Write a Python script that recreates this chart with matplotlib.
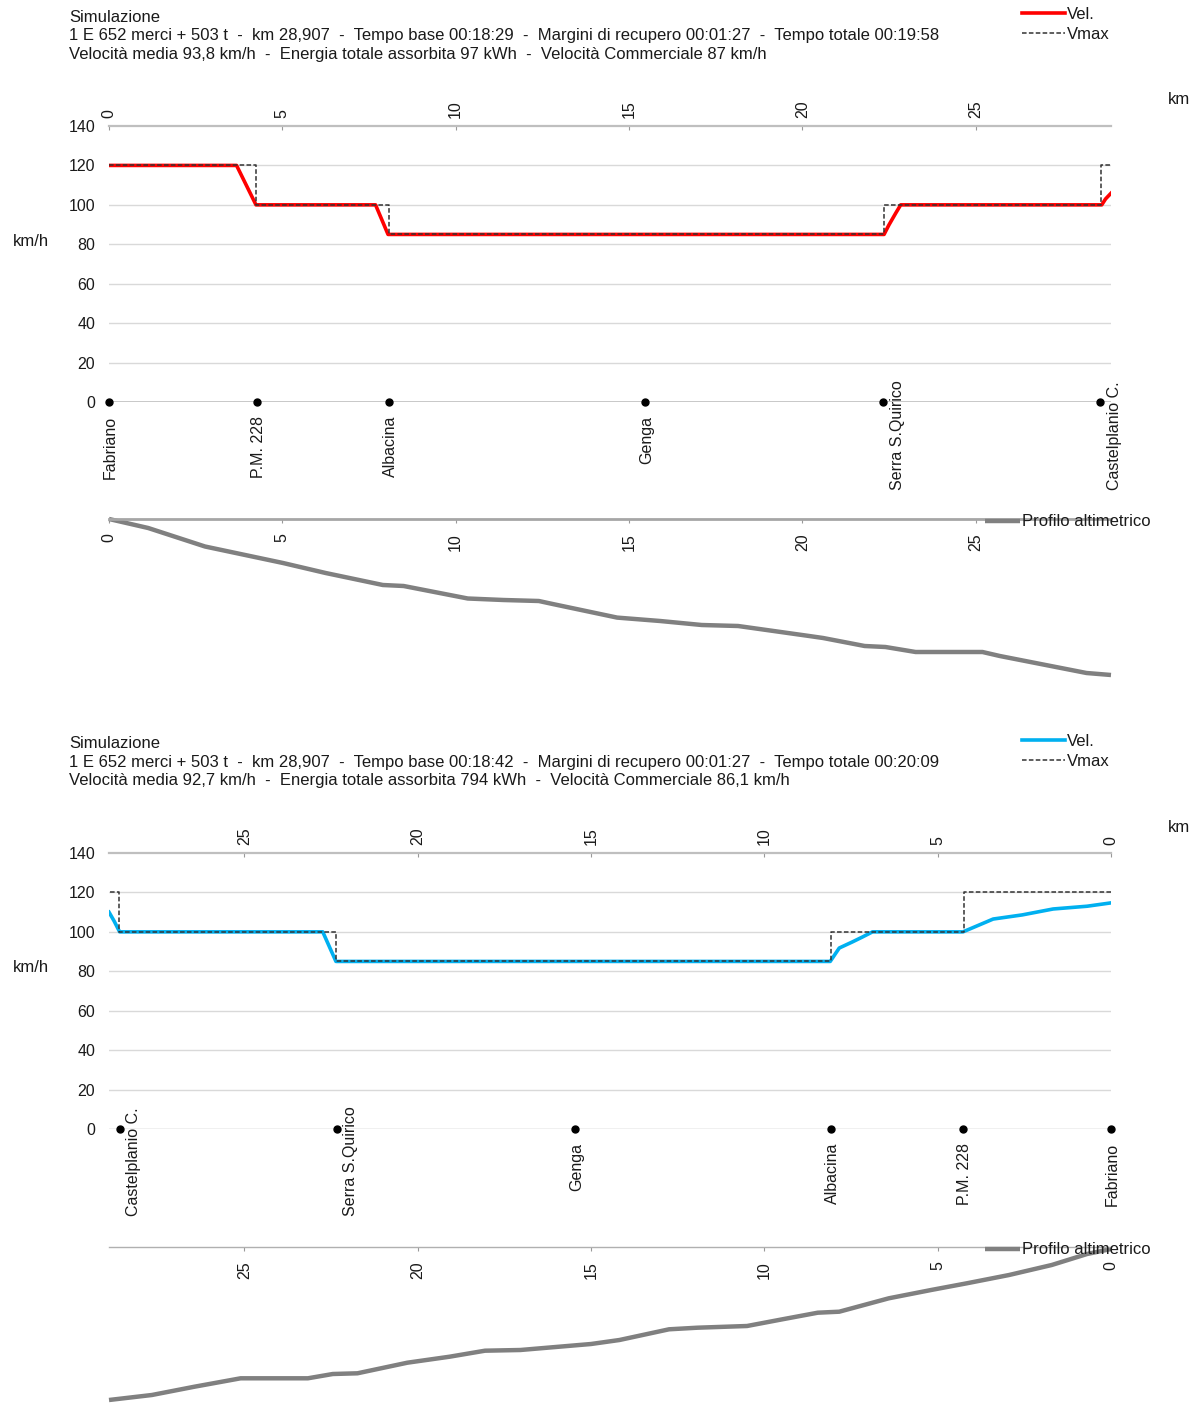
import matplotlib
matplotlib.use("Agg")
from matplotlib import pyplot as plt

plt.rcParams['font.family'] = ['Liberation Sans', 'DejaVu Sans']

W, H = 1195, 1404
TOTAL_KM = 28.907

stations = ["Fabriano", "P.M. 228", "Albacina", "Genga", "Serra S.Quirico", "Castelplanio C."]
station_km = [0, 4.27, 8.08, 15.46, 22.34, 28.6]

km_ticks = [0, 5, 10, 15, 20, 25]
speed_ticks = [0, 20, 40, 60, 80, 100, 120, 140]

vmax_km = [0, 4.25, 8.07, 22.35, 28.62, 28.907]
vmax_kmh = [120, 100, 85, 100, 120, 120]

# andata: Fabriano -> Castelplanio
vel_a_km = [0, 3.68, 4.24, 7.69, 8.05, 22.36, 22.5, 22.7, 22.84, 28.64, 28.75, 28.907]
vel_a_kmh = [120, 120, 100, 100, 85, 85, 89.8, 95.9, 100, 100, 103, 105.9]

prof_a_km = [0, 1.13, 2.77, 5.02, 6.25, 7.9, 8.5, 10.35, 11.38, 12.4, 12.8, 14.66,
             15.9, 17.1, 18.15, 20.2, 20.6, 21.8, 22.4, 23.27, 25.2, 25.7, 28.2, 28.907]
prof_a_m = [325, 316, 297.5, 281, 271, 259, 258, 245.5, 244, 243, 240, 226.4,
            223, 219, 218, 208, 206, 198, 197, 192, 192, 188, 171, 169]

# ritorno: Castelplanio -> Fabriano (asse km invertito)
vel_r_km = [0, 0.69, 1.67, 2.56, 3.4, 4.27, 6.88, 7.17, 7.46, 7.84, 8.1,
            22.36, 22.74, 28.6, 28.76, 28.907]
vel_r_kmh = [114.7, 113, 111.6, 108.6, 106.5, 100, 100, 97.4, 94.9, 91.8, 85,
             85, 100, 100, 105.5, 110]

prof_r_km = [0, 0.69, 1.71, 2.94, 4.16, 5.19, 6.41, 7.84, 8.46, 9.48, 10.5, 11.93, 12.75,
             14.18, 15.0, 17.04, 18.06, 19.08, 20.3, 21.74, 22.45, 23.17, 25.11, 26.44, 27.67, 28.907]
prof_r_m = [325, 320, 309, 299, 290.7, 284, 275.7, 262.3, 261.3, 254.7, 248, 246.3, 244.7,
            234, 230, 224, 223.3, 217.3, 211.3, 200.7, 200, 195.7, 195.7, 187.3, 179, 174]

header_a = ["Simulazione",
            "1 E 652 merci + 503 t  -  km 28,907  -  Tempo base 00:18:29  -  Margini di recupero 00:01:27  -  Tempo totale 00:19:58",
            "Velocità media 93,8 km/h  -  Energia totale assorbita 97 kWh  -  Velocità Commerciale 87 km/h"]
header_r = ["Simulazione",
            "1 E 652 merci + 503 t  -  km 28,907  -  Tempo base 00:18:42  -  Margini di recupero 00:01:27  -  Tempo totale 00:20:09",
            "Velocità media 92,7 km/h  -  Energia totale assorbita 794 kWh  -  Velocità Commerciale 86,1 km/h"]

FS = 12
TXT = '#1a1a1a'

fig = plt.figure(figsize=(W / 100, H / 100), dpi=100)


def px_axes(left, top, right, bottom):
    return fig.add_axes([left / W, 1 - bottom / H, (right - left) / W, (bottom - top) / H])


def draw_block(y0, header, vel_km, vel_kmh, color, prof_km, prof_m, prof_lim,
               prof_top, prof_bottom, reverse, zero_color, prof_spine):
    # intestazione
    for i, line in enumerate(header):
        fig.text(69 / W, 1 - (y0 + 17 + i * 18.5) / H, line, fontsize=FS, color=TXT,
                 ha='left', va='center')

    ax = px_axes(109, y0 + 126, 1111, y0 + 402)
    xlim = (TOTAL_KM, 0) if reverse else (0, TOTAL_KM)
    ax.set_xlim(*xlim)
    ax.set_ylim(0, 140)
    for s in ['left', 'right', 'bottom']:
        ax.spines[s].set_visible(False)
    ax.spines['top'].set_color('#bfbfbf')
    ax.spines['top'].set_linewidth(1.6)
    ax.set_yticks(speed_ticks)
    ax.tick_params(axis='y', length=0, pad=10, labelsize=11.5, labelcolor=TXT)
    ax.xaxis.tick_top()
    ax.set_xticks(km_ticks)
    ax.tick_params(axis='x', direction='in', length=3, color='#999999', pad=6,
                   labelrotation=90, labelsize=11.5, labelcolor=TXT)
    for v in speed_ticks[1:-1]:
        ax.axhline(v, color='#d9d9d9', lw=1, zorder=0)
    ax.axhline(0, color=zero_color, lw=1.2, zorder=0)

    vel_line, = ax.plot(vel_km, vel_kmh, color=color, lw=2.6, zorder=3,
                        solid_joinstyle='round', label='Vel.')
    vmax_line, = ax.plot(vmax_km, vmax_kmh, drawstyle='steps-post', color='#333333',
                         lw=1.1, ls=(0, (3, 1.5)), zorder=4, label='Vmax')

    ax.plot(station_km, [0] * len(station_km), 'o', color='black', ms=5,
            clip_on=False, zorder=5)
    for name, k in zip(stations, station_km):
        if len(name) > 10:
            ax.annotate(name, (k, 0), xytext=(10, -63), textcoords='offset points',
                        rotation=90, ha='center', va='bottom', fontsize=11.5, color=TXT)
        else:
            ax.annotate(name, (k, 0), xytext=(1, -10), textcoords='offset points',
                        rotation=90, ha='center', va='top', fontsize=11.5, color=TXT)

    fig.legend(handles=[vel_line, vmax_line], loc='upper left',
               bbox_to_anchor=(1022 / W, 1 - (y0 + 7) / H), frameon=False, fontsize=FS,
               handlelength=2.6, handletextpad=0.1, borderpad=0, borderaxespad=0,
               labelspacing=0.32, labelcolor=TXT)

    fig.text(1168 / W, 1 - (y0 + 100) / H, 'km', fontsize=FS, color=TXT, va='center')
    fig.text(31 / W, 1 - (y0 + 241) / H, 'km/h', fontsize=FS, color=TXT,
             ha='center', va='center')

    # profilo altimetrico
    axp = px_axes(109, prof_top, 1111, prof_bottom)
    axp.set_xlim(*xlim)
    axp.set_ylim(*prof_lim)
    axp.patch.set_alpha(0)
    for s in ['left', 'right', 'top']:
        axp.spines[s].set_visible(False)
    axp.spines['bottom'].set_position(('axes', 1.0))
    axp.spines['bottom'].set_color(prof_spine[0])
    axp.spines['bottom'].set_linewidth(prof_spine[1])
    axp.set_yticks([])
    axp.set_xticks(km_ticks)
    axp.tick_params(axis='x', direction='out', length=3, color='#999999', pad=7,
                    labelrotation=90, labelsize=11.5, labelcolor=TXT)
    prof_line, = axp.plot(prof_km, prof_m, color='#808080', lw=3.2, clip_on=False,
                          solid_capstyle='butt')
    axp.legend([prof_line], ['Profilo altimetrico'], loc='center left',
               bbox_to_anchor=(985 / W, 1 - (prof_top + 3) / H),
               bbox_transform=fig.transFigure, frameon=False, fontsize=FS,
               handlelength=2.1, handletextpad=0.1, borderpad=0, borderaxespad=0,
               labelcolor=TXT)


draw_block(0, header_a, vel_a_km, vel_a_kmh, '#ff0000', prof_a_km, prof_a_m,
           (160, 325), 519, 684, False, '#bfbfbf', ('#a6a6a6', 2.0))
draw_block(727, header_r, vel_r_km, vel_r_kmh, '#00b0f0', prof_r_km, prof_r_m,
           (170, 327), 1247, 1404, True, '#eeeeee', ('#b0b0b0', 1.0))

fig.savefig('out.png', dpi=100)
